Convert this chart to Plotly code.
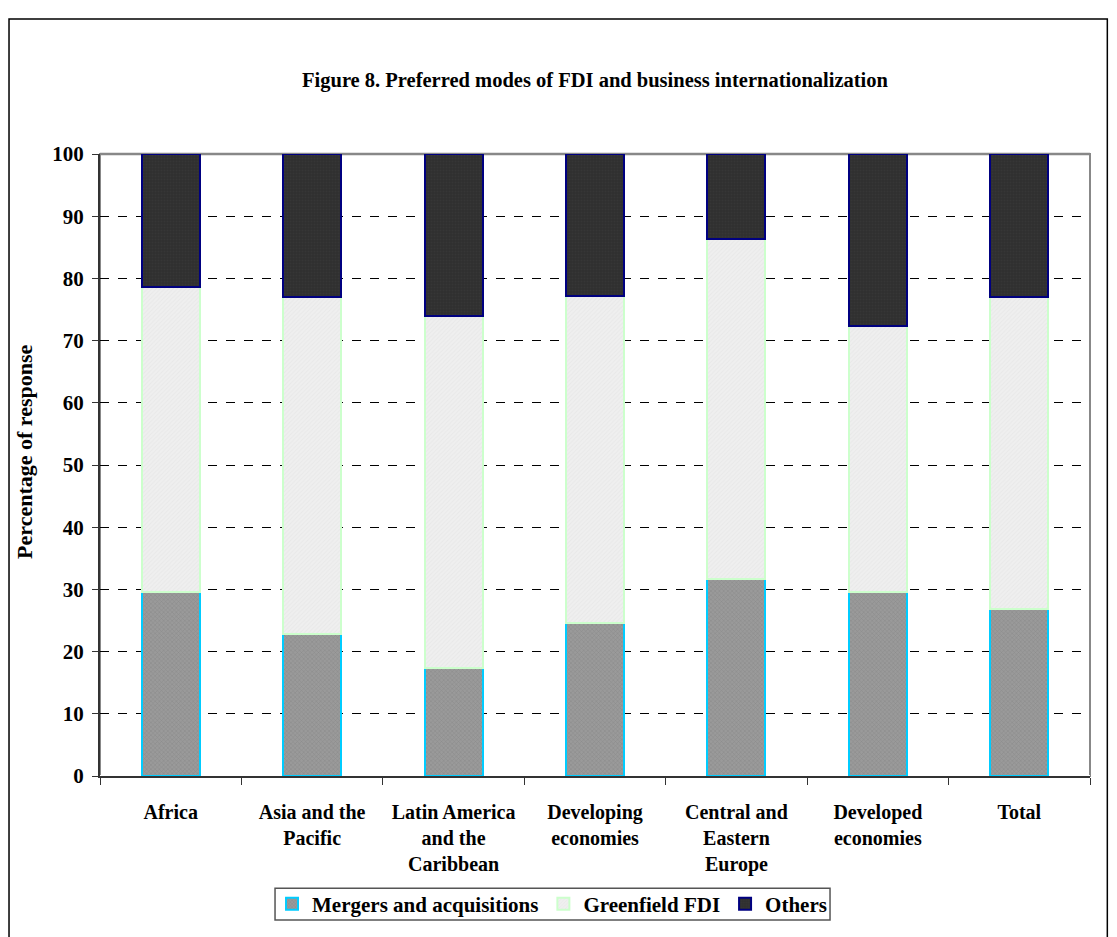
import plotly.graph_objects as go

categories = ["Africa", "Asia and the<br>Pacific", "Latin America<br>and the<br>Caribbean",
              "Developing<br>economies", "Central and<br>Eastern<br>Europe", "Developed<br>economies", "Total"]
mergers = [29.6, 22.9, 17.3, 24.6, 31.6, 29.6, 26.8]
greenfield = [49.0, 54.1, 56.7, 52.6, 54.7, 42.8, 50.2]
others = [21.4, 23.0, 26.0, 22.8, 13.7, 27.6, 23.0]
yticks = [0, 10, 20, 30, 40, 50, 60, 70, 80, 90, 100]

FONT = "Liberation Serif"

fig = go.Figure()
fig.add_bar(name="<b>Mergers and acquisitions</b>", x=categories, y=mergers,
            marker=dict(color="#8c8c8c", line=dict(color="#00ccff", width=2),
                        pattern=dict(shape="x", size=3, fgcolor="#777777", bgcolor="#9a9a9a", solidity=0.3)))
fig.add_bar(name="<b>Greenfield FDI</b>", x=categories, y=greenfield,
            marker=dict(color="#ebebeb", line=dict(color="#ccffcc", width=2),
                        pattern=dict(shape="/", size=3, fgcolor="#e0e0e0", bgcolor="#efefef", solidity=0.3)))
fig.add_bar(name="<b>Others</b>", x=categories, y=others,
            marker=dict(color="#333333", line=dict(color="#000080", width=2),
                        pattern=dict(shape=".", size=3, fgcolor="#3d3d3d", bgcolor="#2e2e2e", solidity=0.4)))

fig.update_layout(
    barmode="stack",
    bargap=0.59,
    width=1109, height=929,
    margin=dict(l=92, r=27, t=146, b=157),
    paper_bgcolor="white", plot_bgcolor="white",
    font=dict(family=FONT, color="black"),
    title=dict(text="<b>Figure 8. Preferred modes of FDI and business internationalization</b>",
               x=0.5, xref="paper", xanchor="center", y=1 - 72 / 929, yref="container", yanchor="middle",
               font=dict(size=20.5, family=FONT)),
    legend=dict(orientation="h", x=0.4566, xanchor="center", y=-0.206, yanchor="middle",
                font=dict(size=21, family=FONT, color="black"), borderwidth=0,
                bgcolor="rgba(0,0,0,0)", traceorder="normal", itemsizing="constant"),
    showlegend=True,
)
fig.update_xaxes(showline=True, linecolor="#333333", linewidth=2,
                 ticks="outside", tickson="boundaries", ticklen=7, tickcolor="#333333",
                 tickfont=dict(size=20, family=FONT), showgrid=False, ticklabelstandoff=17,
                 tickvals=categories, ticktext=[f"<b>{c}</b>" for c in categories])
fig.update_yaxes(range=[0, 100], tickvals=yticks, ticktext=[f"<b>{v}</b>" for v in yticks],
                 showline=True, linecolor="#333333", linewidth=2,
                 ticks="outside", ticklen=6, tickcolor="#333333",
                 tickfont=dict(size=21, family=FONT), ticklabelstandoff=4,
                 showgrid=True, gridcolor="black", griddash="dash", gridwidth=1)

# y-axis title
fig.add_annotation(text="<b>Percentage of response</b>", xref="paper", yref="paper",
                   x=-0.0758, y=0.521, textangle=-90, showarrow=False,
                   font=dict(size=22, family=FONT), xanchor="center", yanchor="middle")

# plot area border (gray), legend box and outer chart frame
fig.add_shape(type="rect", xref="paper", yref="paper", x0=0, x1=1, y0=0, y1=1,
              line=dict(color="#888888", width=2), layer="between")
fig.add_shape(type="line", xref="paper", yref="paper", x0=0, x1=1, y0=1, y1=1,
              line=dict(color="#888888", width=2.5), layer="between")
fig.add_shape(type="rect", xref="paper", yref="paper", x0=0.1768, x1=0.7374, y0=-0.2316, y1=-0.1805,
              line=dict(color="#555555", width=1.5), layer="below")
fig.add_shape(type="rect", xref="paper", yref="paper", x0=-0.0919, x1=1.0175, y0=-0.27, y1=1.217,
              line=dict(color="black", width=1.5), layer="below")

fig.write_html("out.html")
